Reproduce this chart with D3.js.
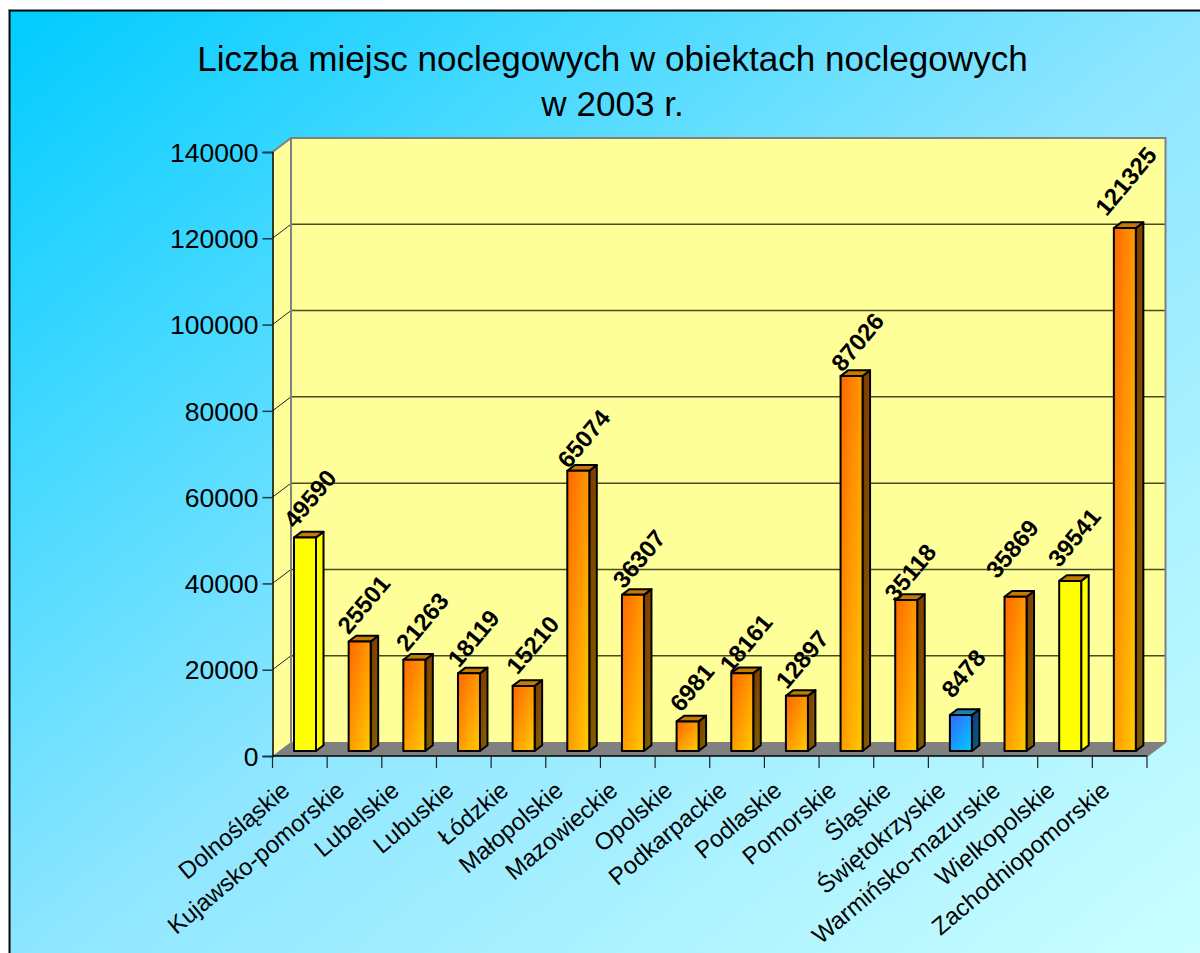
<!DOCTYPE html>
<html><head><meta charset="utf-8">
<script src="https://cdn.jsdelivr.net/npm/d3@7"></script>
<style>html,body{margin:0;padding:0;background:#fff;overflow:hidden}svg{display:block}text{font-family:"Liberation Sans",Arial,sans-serif;fill:#000}</style>
</head><body><svg id="c" width="1200" height="953"></svg>
<script>
const titleLines = ["Liczba miejsc noclegowych w obiektach noclegowych", "w 2003 r."];
const categories = ["Dolnośląskie","Kujawsko-pomorskie","Lubelskie","Lubuskie","Łódzkie","Małopolskie","Mazowieckie","Opolskie","Podkarpackie","Podlaskie","Pomorskie","Śląskie","Świętokrzyskie","Warmińsko-mazurskie","Wielkopolskie","Zachodniopomorskie"];
const values = [49590,25501,21263,18119,15210,65074,36307,6981,18161,12897,87026,35118,8478,35869,39541,121325];
const colorGroups = ["y","o","o","o","o","o","o","o","o","o","o","o","b","o","y","o"];
const yTicks = [0,20000,40000,60000,80000,100000,120000,140000];

// layout only: each value label's offset from its bar's top centre
const labelDx = [5,4,8,4.5,9,5.5,6,4.3,3.8,5.2,6,4,2.5,-3.3,4,1];
const labelDy = [-39,-37,-38,-35,-41,-32,-36,-34,-30,-36.5,-34,-27.5,-41.5,-48,-43.5,-47];

const W=1200,H=953;
const xL=272.5,xR=1147,yB=756,yT=152,dx=18.5,dy=-14;
const svg=d3.select("#c");
const defs=svg.append("defs");
function grad(id,stops){
  const g=defs.append("linearGradient").attr("id",id).attr("x1",0).attr("y1",0).attr("x2",1).attr("y2",1);
  stops.forEach((c,i)=>g.append("stop").attr("offset",i/(stops.length-1)).attr("stop-color",c));
}
grad("bg",["#00ccff","#8ee6ff","#ccffff"]);
grad("of",["#ff6600","#ffcc00"]);
grad("os",["#803300","#806600"]);
grad("bf",["#3366ff","#00ccff"]);
grad("bs",["#1a3380","#006680"]);
const fills={y:{f:"#ffff00",s:"#ffff00",t:"#c47c00"},o:{f:"url(#of)",s:"url(#os)",t:"#c47c00"},b:{f:"url(#bf)",s:"url(#bs)",t:"#1a80b3"}};

svg.append("rect").attr("x",9.5).attr("y",10.5).attr("width",W+10).attr("height",H+10)
  .attr("fill","url(#bg)").attr("stroke","#000").attr("stroke-width",2);
svg.append("path").attr("d",`M8.5,${H}V9.5H${W}`).attr("fill","none").attr("stroke","#888").attr("stroke-width",1);

const title=svg.append("text").attr("text-anchor","middle").attr("font-size",35.1);
titleLines.forEach((t,i)=>title.append("tspan").attr("x",612.5).attr("y",70.5+i*45).text(t));

const x=d3.scaleBand().domain(categories).range([xL,xR]);
const y=d3.scaleLinear().domain([0,140000]).range([yB,yT]);

// walls
const g=svg.append("g");
g.append("path").attr("d",`M${xL},${yB}L${xL},${yT}L${xL+dx},${yT+dy}L${xL+dx},${yB+dy}Z`).attr("fill","#ffff99");
g.append("path").attr("d",`M${xL+dx},${yT+dy}H${xR+dx}V${yB+dy}H${xL+dx}Z`).attr("fill","#ffff99");
g.append("path").attr("d",`M${xL},${yB}L${xL+dx},${yB+dy}H${xR+dx}L${xR},${yB}Z`).attr("fill","#808080");
// grid
const gridVals=yTicks.filter(v=>v>0&&v<140000);
g.selectAll("path.gb").data(gridVals).join("path").attr("class","gb")
  .attr("d",v=>`M${xL+dx},${y(v)+dy}H${xR+dx}`)
  .attr("fill","none").attr("stroke","#4a4a20").attr("stroke-width",1.5);
g.selectAll("path.gs").data(gridVals).join("path").attr("class","gs")
  .attr("d",v=>`M${xL},${y(v)}L${xL+dx},${y(v)+dy}`)
  .attr("fill","none").attr("stroke","#222").attr("stroke-width",1);
g.append("path").attr("d",`M${xL},${yT}L${xL+dx},${yT+dy}H${xR+dx}V${yB+dy}L${xR},${yB}`)
  .attr("fill","none").attr("stroke","#808080").attr("stroke-width",2);
g.append("path").attr("d",`M${xL+dx},${yT+dy}V${yB+dy}`).attr("fill","none").attr("stroke","#808080").attr("stroke-width",2);

// axes
const ay=svg.append("g").attr("transform",`translate(${xL},0)`).call(d3.axisLeft(y).tickValues(yTicks).tickFormat(d3.format("d")).tickSize(10).tickPadding(4));
ay.selectAll("text").attr("font-size",26.5).attr("dy","0.35em");
ay.attr("font-family",null);
ay.selectAll("line").attr("stroke","#1a3a4a").attr("stroke-width",1.5);
ay.select("path").attr("stroke","#000").attr("stroke-width",1.5);

const ax=svg.append("g").attr("transform",`translate(0,${yB})`);
ax.append("path").attr("d",`M${xL},0H${xR}`).attr("stroke","#000").attr("stroke-width",1.5);
ax.selectAll("line").data(categories.map(c=>x(c)).concat([xR])).join("line")
  .attr("x1",d=>d).attr("x2",d=>d).attr("y1",0).attr("y2",12).attr("stroke","#222").attr("stroke-width",1.2);
ax.selectAll("text").data(categories).join("text")
  .attr("text-anchor","end").attr("font-size",24)
  .attr("transform",c=>`translate(${x(c)+x.bandwidth()/2-8.5},37) rotate(-40)`)
  .text(c=>c);

// bars
const bw=22,bd=7.5,bh=5.7,by=4.5,off=21.5;
const bars=svg.append("g").selectAll("g").data(categories.map((c,i)=>({c,v:values[i],k:colorGroups[i],i}))).join("g");
const st={stroke:"#000","stroke-width":2,"stroke-linejoin":"round"};
function sty(s){Object.entries(st).forEach(([k,v])=>s.attr(k,v));return s;}
const X=d=>x(d.c)+off, T=d=>y(d.v)-by, B=()=>yB-by-0.5;
sty(bars.append("path")).attr("d",d=>`M${X(d)+bw},${T(d)}l${bd},${-bh}V${B()-bh}l${-bd},${bh}Z`).attr("fill",d=>fills[d.k].s);
sty(bars.append("path")).attr("d",d=>`M${X(d)},${T(d)}l${bd},${-bh}h${bw}l${-bd},${bh}Z`).attr("fill",d=>fills[d.k].t);
sty(bars.append("rect")).attr("x",X).attr("y",T).attr("width",bw).attr("height",d=>B()-T(d)).attr("fill",d=>fills[d.k].f);
bars.append("text").attr("text-anchor","middle").attr("font-size",24).attr("font-weight","bold").attr("dy","0.35em")
  .attr("transform",d=>`translate(${X(d)+bw/2+labelDx[d.i]},${T(d)+labelDy[d.i]}) rotate(-50)`).text(d=>d.v);
</script></body></html>
